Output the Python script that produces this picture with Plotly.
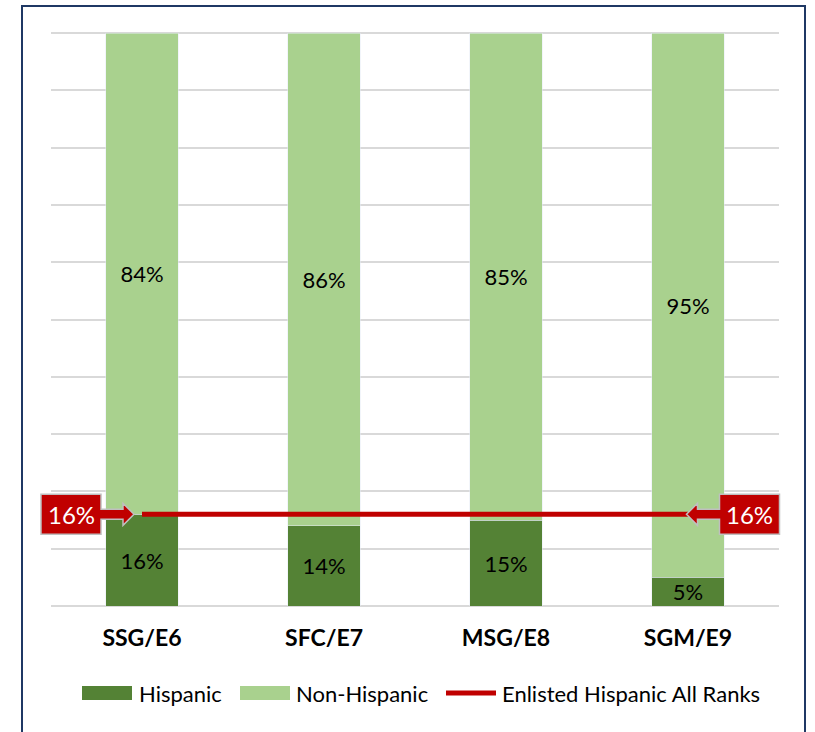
import plotly.graph_objects as go

# ---- data ----
categories = ["SSG/E6", "SFC/E7", "MSG/E8", "SGM/E9"]
hispanic = [16, 14, 15, 5]
non_hispanic = [84, 86, 85, 95]
all_ranks_hispanic = 16
legend_labels = ["Hispanic", "Non-Hispanic", "Enlisted Hispanic All Ranks"]

# ---- styles ----
FONT = "Lato"
DARK_GREEN = "#548235"
LIGHT_GREEN = "#A9D18E"
RED = "#C00000"
W, H = 815, 732
L, R, T, B = 51, 36, 33, 126
PW, PH = W - L - R, H - T - B


def px(x):
    return (x - L) / PW


def py(y):
    return (H - B - y) / PH


fig = go.Figure()
fig.add_bar(
    x=categories, y=hispanic, name=legend_labels[0], marker_color=DARK_GREEN,
    text=[f"{v}%" for v in hispanic], textposition="inside", insidetextanchor="middle",
    textfont=dict(color="black", size=22, family=FONT), showlegend=False,
)
fig.add_bar(
    x=categories, y=non_hispanic, name=legend_labels[1], marker_color=LIGHT_GREEN,
    text=[f"{v}%" for v in non_hispanic], textposition="inside", insidetextanchor="middle",
    textfont=dict(color="black", size=22, family=FONT), showlegend=False,
)
fig.add_scatter(
    x=categories, y=[all_ranks_hispanic] * len(categories), mode="lines",
    name=legend_labels[2], line=dict(color=RED, width=5), showlegend=False,
)

shapes = []
annotations = []

# top gridline (plot edge)
shapes.append(dict(type="line", xref="paper", yref="paper", x0=0, x1=1, y0=1, y1=1,
                   line=dict(color="#D9D9D9", width=2), layer="below"))

# callouts for the all-ranks value
tip_y = T + PH * (1 - all_ranks_hispanic / 100)
c_first = L + PW * 0.5 / len(categories)
c_last = L + PW * (len(categories) - 0.5) / len(categories)


def callout(tip_x, direction):
    # direction = +1 arrow points right (box on left), -1 arrow points left (box on right)
    d = direction
    head_base = tip_x - d * 11
    box_near = tip_x - d * 33
    box_far = tip_x - d * 93
    pts = [
        (box_far, tip_y - 20), (box_near, tip_y - 20), (box_near, tip_y - 5),
        (head_base, tip_y - 5), (head_base, tip_y - 11), (tip_x, tip_y),
        (head_base, tip_y + 11), (head_base, tip_y + 5), (box_near, tip_y + 5),
        (box_near, tip_y + 20), (box_far, tip_y + 20),
    ]
    path = "M " + " L ".join(f"{px(x):.5f},{py(y):.5f}" for x, y in pts) + " Z"
    shapes.append(dict(type="path", xref="paper", yref="paper", path=path,
                       fillcolor=RED, line=dict(color="#BFBFBF", width=1.5)))
    annotations.append(dict(xref="paper", yref="paper", x=px((box_far + box_near) / 2),
                            y=py(tip_y), text=f"{all_ranks_hispanic}%", showarrow=False,
                            font=dict(color="white", size=24, family=FONT),
                            xanchor="center", yanchor="middle"))


callout(c_first - 8, +1)
callout(c_last - 1.5, -1)

# outer border
shapes.append(dict(type="rect", xref="paper", yref="paper", x0=px(22), x1=px(805),
                   y0=py(745), y1=py(6), line=dict(color="#1F3864", width=2),
                   fillcolor="rgba(0,0,0,0)"))

# custom legend
ly = 693
shapes.append(dict(type="rect", xref="paper", yref="paper", x0=px(82), x1=px(132),
                   y0=py(ly + 7), y1=py(ly - 7), fillcolor=DARK_GREEN, line=dict(width=0)))
shapes.append(dict(type="rect", xref="paper", yref="paper", x0=px(240), x1=px(290),
                   y0=py(ly + 7), y1=py(ly - 7), fillcolor=LIGHT_GREEN, line=dict(width=0)))
shapes.append(dict(type="line", xref="paper", yref="paper", x0=px(446), x1=px(496),
                   y0=py(ly), y1=py(ly), line=dict(color=RED, width=5)))
for xpos, label in zip([137, 294, 500], legend_labels):
    annotations.append(dict(xref="paper", yref="paper", x=px(xpos), y=py(ly), text=label,
                            showarrow=False, xanchor="left", yanchor="middle",
                            font=dict(color="#000000", size=22, family=FONT)))

fig.update_layout(
    width=W, height=H,
    margin=dict(l=L, r=R, t=T, b=B),
    barmode="stack", bargap=0.6,
    plot_bgcolor="white", paper_bgcolor="white",
    showlegend=False,
    shapes=shapes, annotations=annotations,
    uniformtext=dict(minsize=22, mode="show"),
    font=dict(family=FONT, color="black"),
)
fig.update_xaxes(showgrid=False, showline=False, ticks="", ticklabelstandoff=16,
                 tickfont=dict(size=23, family=FONT, color="black", weight="bold"))
fig.update_yaxes(range=[0, 100], dtick=10, showticklabels=False, showgrid=True,
                 gridcolor="#D9D9D9", gridwidth=2, zeroline=True, zerolinecolor="#D9D9D9",
                 zerolinewidth=2, showline=False)

fig.write_html("out.html", config={"displayModeBar": False},
               post_script="document.body.style.margin='0';document.body.style.overflow='hidden';")
